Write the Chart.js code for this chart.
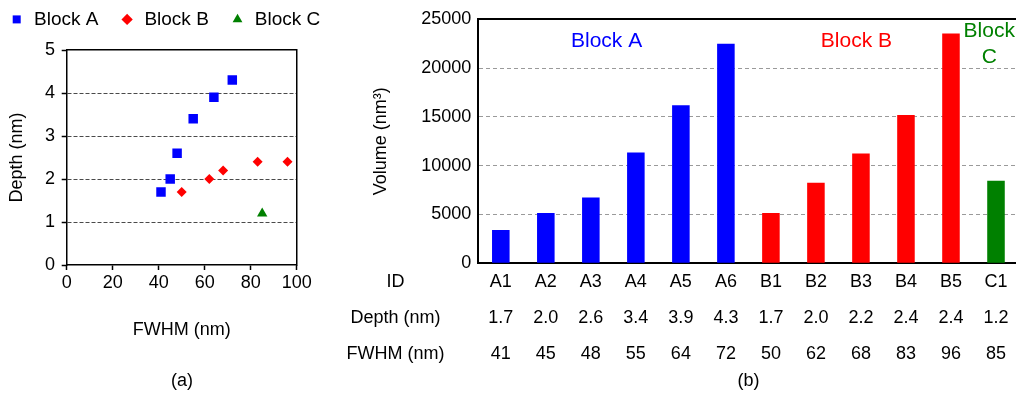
<!DOCTYPE html>
<html><head><meta charset="utf-8">
<script src="https://cdn.jsdelivr.net/npm/chart.js@4/dist/chart.umd.min.js"></script>
<style>
html,body{margin:0;padding:0;background:#fff;}
body{width:1016px;height:401px;overflow:hidden;position:relative;}
#scatter{position:absolute;left:-12px;top:-11px;}
#bars{position:absolute;left:330px;top:0;}
</style></head><body>
<canvas id="scatter" width="388" height="412"></canvas>
<canvas id="bars" width="700" height="401"></canvas>
<script>
// ---- data ----
const ids = ['A1','A2','A3','A4','A5','A6','B1','B2','B3','B4','B5','C1'];
const blocks = ['A','A','A','A','A','A','B','B','B','B','B','C'];
const depth = [1.7,2.0,2.6,3.4,3.9,4.3,1.7,2.0,2.2,2.4,2.4,1.2];
const fwhm = [41,45,48,55,64,72,50,62,68,83,96,85];
const volume = [3400,5150,6750,11350,16200,22500,5150,8250,11250,15200,23550,8450];
const blockKeys = ['A','B','C'];
const blockNames = ['Block A','Block B','Block C'];
const rowHeaders = ['ID','Depth (nm)','FWHM (nm)'];
const depthTicks = [0,1,2,3,4,5];
const fwhmTicks = [0,20,40,60,80,100];
const volumeTicks = [0,5000,10000,15000,20000,25000];

// ---- styles ----
const FONT = '"Liberation Sans", Arial, Helvetica, sans-serif';
Chart.defaults.font.family = FONT;
Chart.defaults.color = '#000';
const colors = {A:'#0000ff', B:'#ff0000', C:'#008000'};
const pStyles = {A:'rect', B:'rectRot', C:'triangle'};
const pRadius = {A:6.7, B:5, C:6};

// ---- (a) scatter ----
new Chart(document.getElementById('scatter'), {
  type: 'scatter',
  data: {
    datasets: blockKeys.map((L, k) => ({
      label: blockNames[k],
      data: ids.map((_, i) => i).filter(i => blocks[i] === L).map(i => ({x: fwhm[i], y: depth[i]})),
      pointStyle: pStyles[L],
      pointRadius: pRadius[L],
      pointHoverRadius: pRadius[L],
      backgroundColor: colors[L],
      borderColor: colors[L],
      borderWidth: 0,
      xAxisID: 'x',
      yAxisID: 'y'
    }))
  },
  options: {
    responsive: false, animation: false, events: [],
    layout: {padding: 0},
    plugins: {
      legend: {display: true, position: 'top', align: 'start',
        labels: {usePointStyle: true, boxWidth: 15.6, boxHeight: 8, padding: 20.9, font: {size: 19}, color: '#000'}},
      title: {display: true, text: '(a)', position: 'bottom', padding: {top: 0, bottom: 9.2},
        font: {size: 18, weight: 'normal'}, color: '#000'},
      tooltip: {enabled: false}
    },
    scales: {
      x: {type: 'linear', position: 'bottom', min: fwhmTicks[0], max: fwhmTicks[fwhmTicks.length - 1],
        afterBuildTicks: s => { s.ticks = fwhmTicks.map(v => ({value: v})); },
        ticks: {padding: 2.5, font: {size: 18}, color: '#000', callback: v => String(v)},
        grid: {drawOnChartArea: false, drawTicks: true, tickLength: 5, tickColor: '#000', tickWidth: 1.5},
        border: {color: '#000', width: 1.5},
        title: {display: true, text: 'FWHM (nm)', font: {size: 18}, color: '#000', padding: {top: 0, bottom: 29.4}},
        afterFit: s => { s.height = 105.2; }
      },
      y: {type: 'linear', position: 'left', min: depthTicks[0], max: depthTicks[depthTicks.length - 1],
        afterBuildTicks: s => { s.ticks = depthTicks.map(v => ({value: v})); },
        ticks: {padding: 6.7, font: {size: 18}, color: '#000', callback: v => String(v)},
        grid: {color: c => (c.tick && c.tick.value > 0 && c.tick.value < 5) ? '#4a4a4a' : 'rgba(0,0,0,0)',
          lineWidth: 1, drawTicks: true, tickLength: 5, tickColor: '#000', tickWidth: 1.5},
        border: {color: '#000', width: 1.5, dash: [4, 2]},
        title: {display: true, text: 'Depth (nm)', font: {size: 18}, color: '#000', padding: {top: 18.7, bottom: 0}},
        afterFit: s => { s.width = 78.7; }
      },
      xTop: {type: 'linear', position: 'top', display: true,
        ticks: {display: false}, grid: {display: false, drawTicks: false},
        border: {display: true, color: '#000', width: 1.5},
        afterFit: s => { s.height = 11.1; }
      },
      yRight: {type: 'linear', position: 'right', display: true,
        ticks: {display: false}, grid: {display: false, drawTicks: false},
        border: {display: true, color: '#000', width: 1.5},
        afterFit: s => { s.width = 79.3; }
      }
    }
  }
});

// ---- (b) bar chart ----
const BAR_CANVAS_LEFT = 330;
const barTextPlugin = {
  id: 'barText',
  afterDraw(chart) {
    const {ctx} = chart;
    const xs = chart.scales.x, ys = chart.scales.y;
    ctx.save();
    ctx.textAlign = 'center';
    ctx.textBaseline = 'middle';
    // block annotations
    const spec = [
      {k: 0, at: 2.35, v: 22800, lines: [blockNames[0]]},
      {k: 1, at: 7.9, v: 22800, lines: [blockNames[1]]},
      {k: 2, at: 10.85, v: 22450, lines: blockNames[2].split(' ')}
    ];
    ctx.font = '21px ' + FONT;
    spec.forEach(s => {
      ctx.fillStyle = colors[blockKeys[s.k]];
      const px = xs.getPixelForValue(s.at);
      const py = ys.getPixelForValue(s.v);
      const lh = 26;
      s.lines.forEach((t, j) => {
        ctx.fillText(t, px, py + (j - (s.lines.length - 1) / 2) * lh);
      });
    });
    // row headers of the table
    ctx.font = '18px ' + FONT;
    ctx.fillStyle = '#000';
    const lh = 36, pad = 1.2;
    rowHeaders.forEach((t, r) => {
      ctx.fillText(t, 395.5 - BAR_CANVAS_LEFT, xs.top + pad + lh * (r + 0.5));
    });
    ctx.restore();
  }
};

new Chart(document.getElementById('bars'), {
  type: 'bar',
  data: {
    labels: ids,
    datasets: [{
      data: volume,
      backgroundColor: blocks.map(b => colors[b]),
      borderWidth: 0,
      categoryPercentage: 1,
      barPercentage: 0.39
    }]
  },
  options: {
    responsive: false, animation: false, events: [],
    layout: {padding: {top: 19.3, right: 11.5, bottom: 0, left: 0}},
    plugins: {legend: {display: false}, tooltip: {enabled: false}},
    scales: {
      x: {
        ticks: {font: {size: 18, lineHeight: 2}, padding: 1.2, color: '#000', autoSkip: false, maxRotation: 0,
          callback: (v, i) => [ids[i], depth[i].toFixed(1), String(fwhm[i])]},
        grid: {display: false, drawTicks: false},
        border: {display: true, color: '#000', width: 2},
        title: {display: true, text: '(b)', font: {size: 18}, color: '#000', padding: {top: 0, bottom: 9.2}},
        afterFit: s => { s.height = 137.7; }
      },
      y: {
        min: volumeTicks[0], max: volumeTicks[volumeTicks.length - 1],
        afterBuildTicks: s => { s.ticks = volumeTicks.map(v => ({value: v})); },
        ticks: {padding: 7, font: {size: 18}, color: '#000', callback: v => String(v)},
        grid: {drawTicks: false,
          color: c => !c.tick ? '#999' : (c.tick.value === 25000 ? '#000' : (c.tick.value === 0 ? 'rgba(0,0,0,0)' : '#9a9a9a')),
          lineWidth: c => (c.tick && c.tick.value === 25000) ? 2 : 1},
        border: {color: '#000', width: 2, dash: c => (c.tick && c.tick.value === 25000) ? [] : [4, 3]},
        title: {display: true, text: 'Volume (nm³)', font: {size: 18}, color: '#000', padding: {top: 40.2, bottom: 0}},
        afterFit: s => { s.width = 148.3; }
      }
    }
  },
  plugins: [barTextPlugin]
});
</script>
</body></html>
